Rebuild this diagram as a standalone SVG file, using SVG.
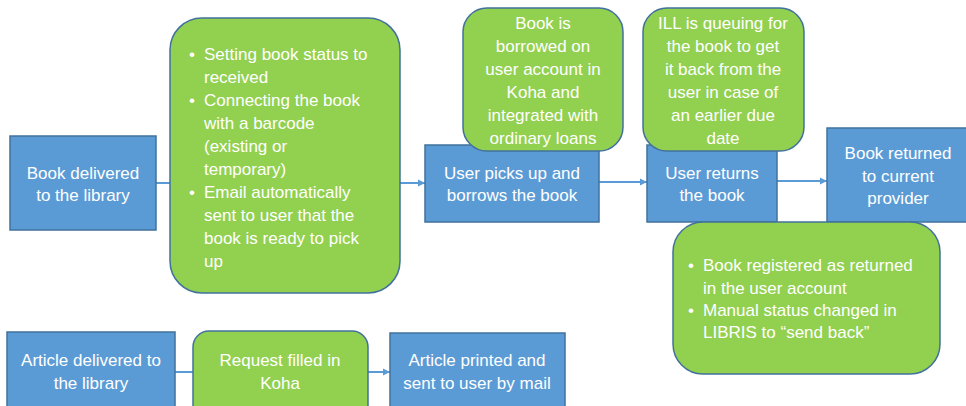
<svg xmlns="http://www.w3.org/2000/svg" width="966" height="406" viewBox="0 0 966 406">
<style>
.blue{fill:#5B9BD5;stroke:#41719C;stroke-width:1.5}
.green{fill:#92D050;stroke:#41719C;stroke-width:1.5}
text{font-family:"Liberation Sans",Arial,sans-serif;font-size:17px;fill:#FFFFFF}
.c{text-anchor:middle}
.conn{stroke:#5B9BD5;stroke-width:2;fill:none}
</style>
<defs>
<marker id="arr" markerWidth="8" markerHeight="8" refX="7" refY="4" orient="auto" markerUnits="userSpaceOnUse">
<path d="M0,0.5 L7,4 L0,7.5 Z" fill="#5B9BD5"/>
</marker>
</defs>
<rect width="966" height="406" fill="#FFFFFF"/>
<g id="connectors">
<line class="conn" x1="156" y1="183" x2="425" y2="183" marker-end="url(#arr)"/>
<line class="conn" x1="599" y1="182" x2="647" y2="182" marker-end="url(#arr)"/>
<line class="conn" x1="777" y1="181" x2="827" y2="181" marker-end="url(#arr)"/>
<line class="conn" x1="175" y1="372" x2="390" y2="372" marker-end="url(#arr)"/>
</g>
<g id="book-delivered">
<rect class="blue" x="10" y="136" width="146" height="94"/>
<text class="c" x="83" y="179">Book delivered</text>
<text class="c" x="83" y="201">to the library</text>
</g>
<g id="user-picks-up">
<rect class="blue" x="425" y="145" width="174" height="77"/>
<text class="c" x="512" y="179">User picks up and</text>
<text class="c" x="512" y="201">borrows the book</text>
</g>
<g id="user-returns">
<rect class="blue" x="647" y="145" width="130" height="77"/>
<text class="c" x="712" y="179">User returns</text>
<text class="c" x="712" y="201">the book</text>
</g>
<g id="book-returned">
<rect class="blue" x="827" y="128" width="142" height="94"/>
<text class="c" x="898" y="159">Book returned</text>
<text class="c" x="898" y="182">to current</text>
<text class="c" x="898" y="204">provider</text>
</g>
<g id="article-delivered">
<rect class="blue" x="7" y="332" width="168" height="90"/>
<text class="c" x="91" y="366">Article delivered to</text>
<text class="c" x="91" y="389">the library</text>
</g>
<g id="article-printed">
<rect class="blue" x="390" y="333" width="175" height="90"/>
<text class="c" x="477" y="366">Article printed and</text>
<text class="c" x="477" y="389">sent to user by mail</text>
</g>
<g id="receive-steps">
<rect class="green" x="170" y="18" width="230" height="275" rx="32" ry="32"/>
<text x="189" y="60">•</text><text x="204" y="60">Setting book status to</text>
<text x="204" y="83">received</text>
<text x="189" y="106">•</text><text x="204" y="106">Connecting the book</text>
<text x="204" y="129">with a barcode</text>
<text x="204" y="152">(existing or</text>
<text x="204" y="175">temporary)</text>
<text x="189" y="198">•</text><text x="204" y="198">Email automatically</text>
<text x="204" y="221">sent to user that the</text>
<text x="204" y="244">book is ready to pick</text>
<text x="204" y="267">up</text>
</g>
<g id="borrowed-note">
<rect class="green" x="463" y="8" width="160" height="143" rx="24" ry="24"/>
<text class="c" x="543" y="29">Book is</text>
<text class="c" x="543" y="52">borrowed on</text>
<text class="c" x="543" y="75">user account in</text>
<text class="c" x="543" y="98">Koha and</text>
<text class="c" x="543" y="121">integrated with</text>
<text class="c" x="543" y="144">ordinary loans</text>
</g>
<g id="queue-note">
<rect class="green" x="643" y="8" width="161" height="143" rx="24" ry="24"/>
<text class="c" x="723" y="29">ILL is queuing for</text>
<text class="c" x="723" y="52">the book to get</text>
<text class="c" x="723" y="75">it back from the</text>
<text class="c" x="723" y="98">user in case of</text>
<text class="c" x="723" y="121">an earlier due</text>
<text class="c" x="723" y="144">date</text>
</g>
<g id="return-note">
<rect class="green" x="673" y="222" width="267" height="152" rx="30" ry="30"/>
<text x="688" y="271">•</text><text x="703" y="271">Book registered as returned</text>
<text x="703" y="294">in the user account</text>
<text x="688" y="316">•</text><text x="703" y="316">Manual status changed in</text>
<text x="703" y="338">LIBRIS to “send back”</text>
</g>
<g id="request-filled">
<rect class="green" x="193" y="331" width="175" height="92" rx="16" ry="16"/>
<text class="c" x="280" y="366">Request filled in</text>
<text class="c" x="280" y="389">Koha</text>
</g>
</svg>
